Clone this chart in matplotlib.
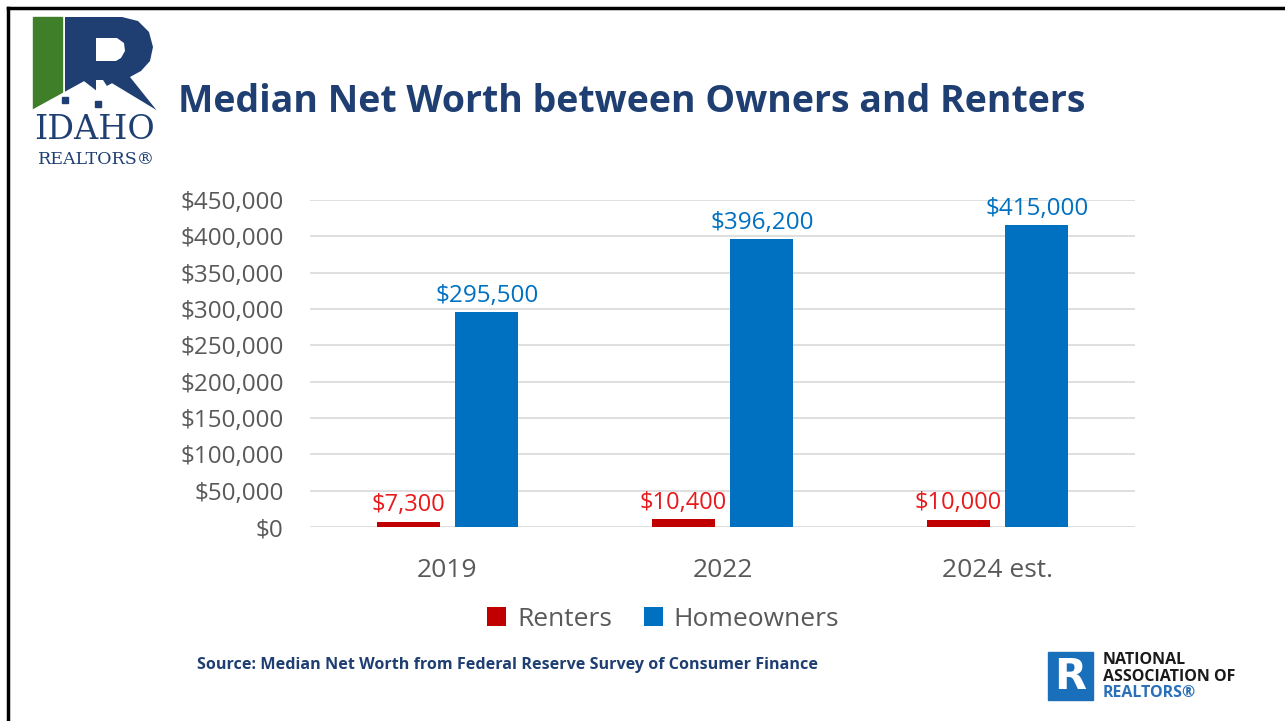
import matplotlib.pyplot as plt
import numpy as np
from matplotlib.patches import Rectangle, Polygon, PathPatch
from matplotlib.path import Path
from matplotlib.lines import Line2D

plt.rcParams["font.family"] = ["Open Sans", "DejaVu Sans"]

years = ["2019", "2022", "2024 est."]
renters = [7300, 10400, 10000]
owners = [295500, 396200, 415000]
yticks = np.arange(0, 450001, 50000)

red = "#C00000"
red_txt = "#E8191B"
blue = "#0070C0"
navy = "#1F3F73"
gray = "#595959"

fig = plt.figure(figsize=(12.85, 7.21), dpi=100)
W, H = 1285, 721


def fx(px):
    return px / W


def fy(py):
    return 1 - py / H


def pts(lst):
    return [(fx(a), fy(b)) for a, b in lst]


ax = fig.add_axes([fx(310), fy(527), fx(1135) - fx(310), fy(200) - fy(527)])
x = np.arange(len(years))
w = 0.23
off = 0.143
b1 = ax.bar(x - off, renters, w, color=red, label="Renters", zorder=3)
b2 = ax.bar(x + off, owners, w, color=blue, label="Homeowners", zorder=3)

for rect, v in zip(b1, renters):
    ax.text(rect.get_x() + rect.get_width() / 2, v + 6000, "${:,}".format(v),
            ha="center", va="bottom", color=red_txt, fontsize=17)
for rect, v in zip(b2, owners):
    ax.text(rect.get_x() + rect.get_width() / 2, v + 6000, "${:,}".format(v),
            ha="center", va="bottom", color=blue, fontsize=17.5)

ax.set_xlim(-0.5, 2.5)
ax.set_ylim(0, 450000)
ax.set_yticks(yticks)
ax.set_yticklabels(["${:,}".format(t) for t in yticks], color=gray, fontsize=17.5)
ax.set_xticks(x)
ax.set_xticklabels(years, color=gray, fontsize=19)
ax.tick_params(length=0)
ax.tick_params(axis="y", pad=19)
ax.tick_params(axis="x", pad=22)
ax.grid(axis="y", color="#D9D9D9", linewidth=1.2, zorder=0)
for s in ax.spines.values():
    s.set_visible(False)

leg = fig.legend(handles=[b1, b2], loc="center", bbox_to_anchor=(fx(663), fy(619)),
                 ncol=2, frameon=False, fontsize=19, handlelength=0.75, handleheight=0.75,
                 handletextpad=0.4, columnspacing=1.2)
for t in leg.get_texts():
    t.set_color(gray)

# title and source
fig.text(fx(178), fy(102), "Median Net Worth between Owners and Renters",
         fontsize=27, fontweight="bold", color=navy, ha="left", va="center")
fig.text(fx(197), fy(665), "Source: Median Net Worth from Federal Reserve Survey of Consumer Finance",
         fontsize=11.6, fontweight="bold", color=navy, ha="left", va="center")

# frame lines
fig.add_artist(Line2D([fx(8), fx(8)], [0, fy(8)], color="black", linewidth=2.5))
fig.add_artist(Line2D([fx(8), 1], [fy(8), fy(8)], color="black", linewidth=2.5))

# Idaho Realtors logo
fig.add_artist(Rectangle((fx(33), fy(110)), fx(29), fy(17) - fy(110), color="#3F7F2A"))
outer = [(65, 17), (122, 17), (138, 21), (149, 32), (153, 47), (150, 61), (141, 71),
         (130, 77), (158, 112), (124, 112), (103, 80), (96, 80), (96, 112), (65, 112), (65, 17)]
hole = [(96, 38), (117, 38), (124, 43), (125, 51), (121, 58), (116, 61), (96, 61), (96, 38)]
verts = pts(outer) + pts(hole[::-1])
codes = ([Path.MOVETO] + [Path.LINETO] * (len(outer) - 2) + [Path.CLOSEPOLY]
         + [Path.MOVETO] + [Path.LINETO] * (len(hole) - 2) + [Path.CLOSEPOLY])
fig.add_artist(PathPatch(Path(verts, codes), facecolor=navy, edgecolor="none"))
fig.add_artist(Polygon(pts([(33, 113), (33, 110), (84, 82), (97, 92), (112, 84), (160, 113)]),
                       closed=True, color="white", zorder=5))
fig.add_artist(Rectangle((fx(62), fy(103)), fx(6), fy(97) - fy(103), color=navy, zorder=6))
fig.add_artist(Rectangle((fx(95), fy(107)), fx(6), fy(101) - fy(107), color=navy, zorder=6))
fig.text(fx(95), fy(139), "IDAHO", fontsize=24, color=navy, family="DejaVu Serif",
         ha="center", va="baseline", zorder=7)
fig.text(fx(97), fy(164), "REALTORS®", fontsize=12.5, color=navy, family="DejaVu Serif",
         ha="center", va="baseline", zorder=7)

# NAR logo
fig.add_artist(Rectangle((fx(1048), fy(700)), fx(45), fy(652) - fy(700), color="#1A6FBA"))
fig.text(fx(1070), fy(677), "R", fontsize=30, fontweight="bold", color="white",
         family="DejaVu Sans", ha="center", va="center")
fig.text(fx(1103), fy(660), "NATIONAL", fontsize=11.5, fontweight="bold", color="#1a1a1a",
         ha="left", va="center")
fig.text(fx(1103), fy(677), "ASSOCIATION OF", fontsize=11.5, fontweight="bold", color="#1a1a1a",
         ha="left", va="center")
fig.text(fx(1103), fy(693), "REALTORS®", fontsize=11.5, fontweight="bold", color="#2A70B8",
         ha="left", va="center")

fig.savefig("out.png", dpi=100)
